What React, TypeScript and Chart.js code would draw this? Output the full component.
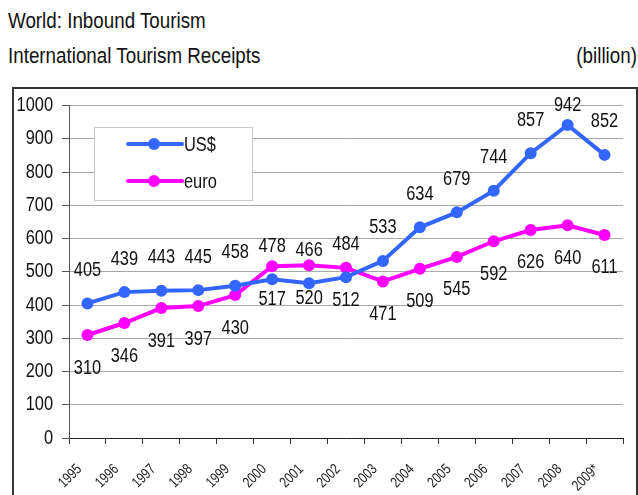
import React, { useEffect, useRef } from "react";
import { Chart, registerables } from "chart.js";

Chart.register(...registerables);

const years = ["1995", "1996", "1997", "1998", "1999", "2000", "2001", "2002", "2003", "2004", "2005", "2006", "2007", "2008", "2009*"];
const usd = [405, 439, 443, 445, 458, 478, 466, 484, 533, 634, 679, 744, 857, 942, 852];
const euro = [310, 346, 391, 397, 430, 517, 520, 512, 471, 509, 545, 592, 626, 640, 611];
const seriesNames = ["US$", "euro"];
const seriesColors = ["#3366ff", "#ff00ff"];

const FONT = "'Liberation Sans', Arial, sans-serif";

function narrowText(ctx: any, text: string, x: number, y: number, align: CanvasTextAlign, size: number, rot = 0, sx = 0.82) {
  ctx.save();
  ctx.translate(x, y);
  if (rot) ctx.rotate(rot);
  ctx.scale(sx, 1);
  ctx.font = `${size}px ${FONT}`;
  ctx.textAlign = align;
  ctx.textBaseline = "middle";
  ctx.fillText(text, 0, 0);
  ctx.restore();
}

const axisLabels = {
  id: "axisLabels",
  afterDraw(chart: any) {
    const ctx = chart.ctx;
    const area = chart.chartArea;
    const xs = chart.scales.x;
    const ys = chart.scales.y;
    ctx.save();
    ctx.fillStyle = "#111";
    ys.ticks.forEach((t: any) => {
      narrowText(ctx, String(t.value), area.left - 16, ys.getPixelForValue(t.value), "right", 20);
    });
    ctx.fillStyle = "#222";
    chart.data.labels.forEach((lab: string, i: number) => {
      const x = xs.getPixelForValue(i);
      narrowText(ctx, lab, x - 8, area.bottom + 29, "right", 15, -Math.PI / 4, 0.78);
    });
    ctx.restore();
  },
};

const dataLabels = {
  id: "dataLabels",
  afterDatasetsDraw(chart: any) {
    const ctx = chart.ctx;
    const area = chart.chartArea;
    ctx.save();
    ctx.fillStyle = "#111";
    chart.data.datasets.forEach((ds: any, di: number) => {
      const meta = chart.getDatasetMeta(di);
      meta.data.forEach((el: any, i: number) => {
        const v = ds.data[i];
        const y = di === 0 ? Math.max(el.y - 33, area.top) : el.y + 33;
        narrowText(ctx, String(v), el.x, y, "center", 20);
      });
    });
    ctx.restore();
  },
};

const innerLegend = {
  id: "innerLegend",
  afterDraw(chart: any) {
    const ctx = chart.ctx;
    ctx.save();
    const bx = 80, by = 38, bw = 158, bh = 73;
    ctx.fillStyle = "#fff";
    ctx.fillRect(bx, by, bw, bh);
    ctx.strokeStyle = "#c8c8c8";
    ctx.lineWidth = 1;
    ctx.strokeRect(bx + 0.5, by + 0.5, bw, bh);
    const rows = [55, 92];
    chart.data.datasets.forEach((ds: any, i: number) => {
      const y = rows[i];
      ctx.strokeStyle = ds.borderColor;
      ctx.lineWidth = 4;
      ctx.lineCap = "round";
      ctx.beginPath();
      ctx.moveTo(114, y);
      ctx.lineTo(168, y);
      ctx.stroke();
      ctx.fillStyle = ds.borderColor;
      ctx.beginPath();
      ctx.arc(140, y, 6, 0, Math.PI * 2);
      ctx.fill();
      ctx.fillStyle = "#111";
      narrowText(ctx, ds.label, 170, y + 1, "left", 20);
    });
    ctx.restore();
  },
};

export default function App() {
  const ref = useRef<HTMLCanvasElement>(null);
  useEffect(() => {
    if (!ref.current) return;
    const mk = (i: number, data: number[]) => ({
      label: seriesNames[i],
      data,
      borderColor: seriesColors[i],
      backgroundColor: seriesColors[i],
      pointBackgroundColor: seriesColors[i],
      borderWidth: 4,
      pointRadius: 6,
      pointBorderWidth: 0,
      tension: 0,
    });
    const chart = new Chart(ref.current, {
      type: "line",
      data: { labels: years, datasets: [mk(0, usd), mk(1, euro)] },
      options: {
        animation: false,
        responsive: false,
        devicePixelRatio: 1,
        layout: { padding: { top: 16.7, right: 11, left: 0, bottom: 0 } },
        plugins: { legend: { display: false }, tooltip: { enabled: false }, title: { display: false } },
        scales: {
          x: {
            type: "category",
            offset: true,
            grid: { display: true, drawOnChartArea: false, drawTicks: true, tickLength: 6, offset: true, tickColor: "#333" },
            border: { display: true, color: "#222", width: 1 },
            ticks: { display: false, autoSkip: false },
            afterFit(scale: any) {
              scale.height = 57;
              scale.paddingLeft = 0;
              scale.paddingRight = 0;
            },
          },
          y: {
            min: 0,
            max: 1000,
            ticks: { display: false, stepSize: 100 },
            grid: { color: "#a8a8a8", lineWidth: 1, tickLength: 7, tickColor: "#555" },
            border: { display: true, color: "#555", width: 1 },
            afterFit(scale: any) {
              scale.width = 55;
              scale.paddingTop = 0;
              scale.paddingBottom = 0;
            },
          },
        },
      },
      plugins: [dataLabels, innerLegend, axisLabels],
    } as any);
    return () => chart.destroy();
  }, []);

  const textStyle: React.CSSProperties = {
    position: "absolute",
    fontFamily: FONT,
    fontSize: 22,
    lineHeight: "22px",
    color: "#111",
    whiteSpace: "nowrap",
    transform: "scaleX(0.854)",
  };

  return (
    <div style={{ position: "fixed", left: 0, top: 0, width: 638, height: 495, background: "#fff", overflow: "hidden" }}>
      <div style={{ ...textStyle, left: 8, top: 10, transformOrigin: "left center" }}>World: Inbound Tourism</div>
      <div style={{ ...textStyle, left: 8, top: 45, transformOrigin: "left center" }}>International Tourism Receipts</div>
      <div style={{ ...textStyle, right: 1, top: 45, transformOrigin: "right center" }}>(billion)</div>
      <div style={{ position: "absolute", left: 12, top: 87, width: 622, height: 430, border: "2px solid #333" }} />
      <canvas ref={ref} width={620} height={406} style={{ position: "absolute", left: 14, top: 89, width: 620, height: 406 }} />
    </div>
  );
}
